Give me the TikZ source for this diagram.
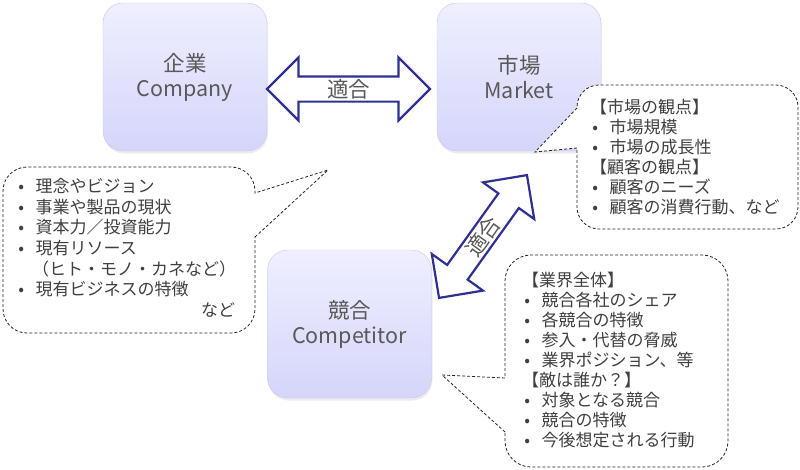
\documentclass[tikz,border=0pt]{standalone}
\usepackage{fontspec}
\setmainfont{Noto Sans CJK JP}
\usetikzlibrary{shapes.arrows,shadows,positioning}
\definecolor{boxtop}{HTML}{EFEFFF}
\definecolor{boxbot}{HTML}{D5D5FB}
\definecolor{boxline}{HTML}{C8C8F0}
\definecolor{arrowblue}{HTML}{2E3192}
\definecolor{labelgray}{HTML}{595959}
\definecolor{memogray}{HTML}{404040}
\newcommand{\bul}{\makebox[14.5pt][l]{\makebox[0pt][c]{•}}}

\begin{document}
\begin{tikzpicture}[
  x=1pt, y=-1pt,
  kotai/.style={rectangle, draw=boxline, top color=boxtop, bottom color=boxbot, rounded corners=20pt, minimum width=164pt, minimum height=148pt, align=center, text=labelgray, font=\fontsize{21.5}{25}\selectfont, drop shadow={shadow xshift=1pt, shadow yshift=-2.5pt, opacity=0.15}},
  tekigo/.style={double arrow, draw=arrowblue, line width=2.2pt, fill=white, minimum width=63pt, double arrow head extend=16.5pt, inner sep=0pt, text=labelgray, font=\fontsize{21.5}{25}\selectfont},
  fukidashi/.style={draw=black!85, dash pattern=on 3pt off 2pt, line width=0.8pt, fill=white},
  memo/.style={anchor=north west, align=left, inner sep=0pt, text=memogray, font=\fontsize{17}{20}\selectfont}
]
  \useasboundingbox (0,0) rectangle (800,469);

  % 3C boxes
  \node[kotai] (company) at (185,77) {企業\\Company};
  \node[kotai] (market) at (519,77) {市場\\Market};
  \node[kotai] (competitor) at (349.5,324) {競合\\Competitor};

  % fit arrows
  \node[tekigo, minimum height=163pt] (fit1) at (348.5,89) {適合};
  \node[tekigo, minimum height=151pt, rotate=54.4] (fit2) at (483,236.5) {適合};

  % callouts
  \draw[fukidashi] (255,237) -- (328,170) -- (255,193) [rounded corners=24pt] -- (255,167) -- (3,167) -- (3,333) -- (255,333) -- (255,237);
  \draw[fukidashi] (577,108) -- (535,152) -- (577,148) [rounded corners=22pt] -- (577,229) -- (798,229) -- (798,85) -- (577,85) -- (577,108);
  \draw[fukidashi] (505,432) -- (442,375) -- (505,378) [rounded corners=26pt] -- (505,255) -- (728,255) -- (728,467) -- (505,467) -- (505,432);

  % callout texts
  \node[memo, text width=214pt, font=\fontsize{17}{20.7}\selectfont] (memoc) at (21,178) {\bul 理念やビジョン\\
    \bul 事業や製品の現状\\
    \bul 資本力／投資能力\\
    \bul 現有リソース\\
    \hspace*{11pt}（ヒト・モノ・カネなど）\\
    \bul 現有ビジネスの特徴\\
    \mbox{}\hfill など};
  \node[memo] (memom) at (595,99) {\hspace*{-5pt}【市場の観点】\\
    \bul 市場規模\\
    \bul 市場の成長性\\
    \hspace*{-5pt}【顧客の観点】\\
    \bul 顧客のニーズ\\
    \bul 顧客の消費行動、など};
  \node[memo] (memok) at (527,272) {\hspace*{-5pt}【業界全体】\\
    \bul 競合各社のシェア\\
    \bul 各競合の特徴\\
    \bul 参入・代替の脅威\\
    \bul 業界ポジション、等\\
    \hspace*{-5pt}【敵は誰か？】\\
    \bul 対象となる競合\\
    \bul 競合の特徴\\
    \bul 今後想定される行動};
\end{tikzpicture}
\end{document}
